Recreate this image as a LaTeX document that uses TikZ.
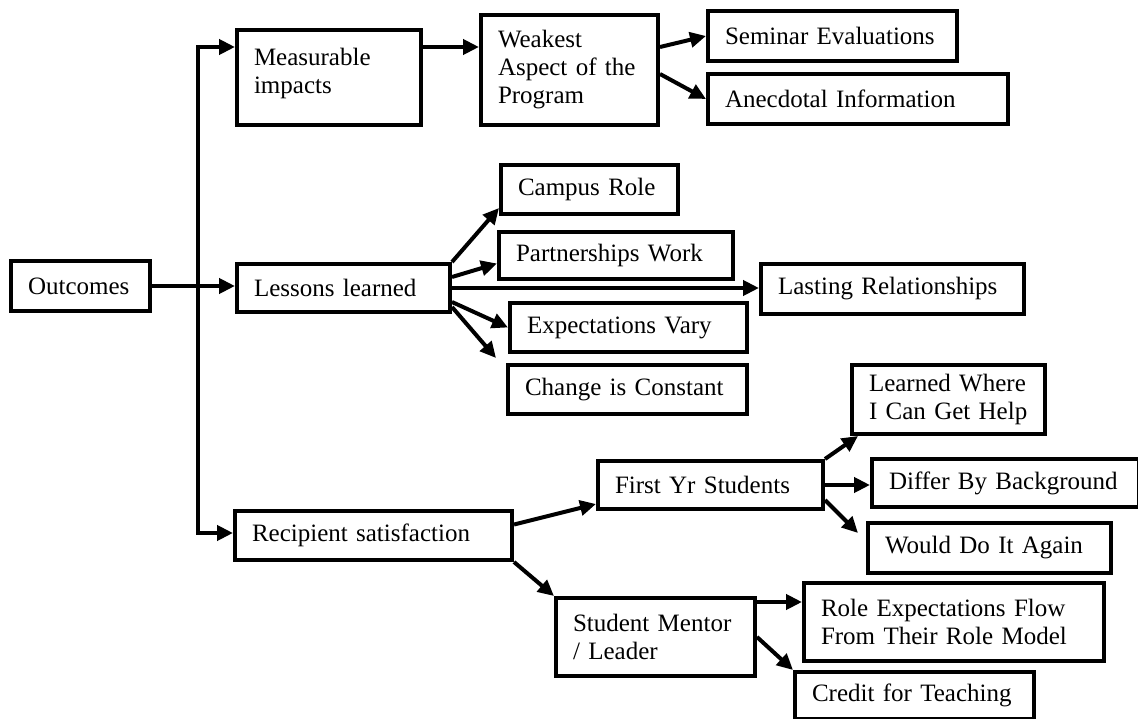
\documentclass[tikz,border=0pt]{standalone}
\usepackage{fontspec}
\setmainfont{Liberation Serif}
\usetikzlibrary{arrows.meta}
\tikzset{
	box/.style={draw, line width=4pt, anchor=north west, align=left,
		inner xsep=17pt, inner ysep=0pt, font=\fontsize{25}{28}\selectfont},
	arr/.style={line width=4pt, -{Triangle[length=16pt,width=15pt]}},
}

\begin{document}
\begin{tikzpicture}[x=1pt, y=-1pt]
			%%%%% START %%%%%
			\useasboundingbox (0, 0) rectangle (1138, 719);
			
			\node[box, minimum width=139pt, minimum height=50pt, text width=105pt] (outcomes) at (9, 259) {Outcomes};
			
			\node[box, minimum width=184pt, minimum height=95pt, text width=150pt] (measure) at (235, 28) {Measurable\\impacts\\[-14pt]~};
			\node[box, minimum width=213pt, minimum height=48pt, text width=179pt] (lessons) at (235, 262) {Lessons learned};
			\node[box, minimum width=277pt, minimum height=49pt, text width=243pt] (recip) at (233, 509) {Recipient satisfaction};
			
			\node[box, minimum width=177pt, minimum height=110pt, text width=143pt] (weak) at (479, 13) {Weakest\\Aspect of the\\Program};
			\node[box, minimum width=249pt, minimum height=50pt, text width=215pt] (seminar) at (706, 9) {Seminar Evaluations};
			\node[box, minimum width=300pt, minimum height=50pt, text width=266pt] (anec) at (706, 72) {Anecdotal Information};
			
			\node[box, minimum width=177pt, minimum height=49pt, text width=143pt] (campus) at (499, 163) {Campus Role};
			\node[box, minimum width=234pt, minimum height=47pt, text width=200pt] (partner) at (497, 230) {Partnerships Work};
			\node[box, minimum width=263pt, minimum height=50pt, text width=229pt] (lasting) at (759, 262) {Lasting Relationships};
			\node[box, minimum width=237pt, minimum height=49pt, text width=203pt] (expect) at (508, 301) {Expectations Vary};
			\node[box, minimum width=239pt, minimum height=49pt, text width=205pt] (change) at (506, 363) {Change is Constant};
			
			\node[box, minimum width=225pt, minimum height=48pt, text width=191pt] (first) at (596, 459) {First Yr Students};
			\node[box, minimum width=199pt, minimum height=78pt, text width=165pt] (mentor) at (554, 596) {Student Mentor\\/ Leader};
			
			\node[box, minimum width=193pt, minimum height=69pt, text width=159pt] (learned) at (850, 363) {Learned Where\\I Can Get Help};
			\node[box, minimum width=267pt, minimum height=48pt, text width=233pt] (differ) at (870, 457) {Differ By Background};
			\node[box, minimum width=243pt, minimum height=50pt, text width=209pt] (would) at (866, 521) {Would Do It Again};
			\node[box, minimum width=300pt, minimum height=78pt, text width=266pt] (role) at (802, 581) {Role Expectations Flow\\From Their Role Model};
			\node[box, minimum width=239pt, minimum height=47pt, text width=205pt] (credit) at (793, 670) {Credit for Teaching};
			
			\coordinate (top) at (198, 47);
			\coordinate (bot) at (198, 533);
			\coordinate (lfree) at (496, 358);
			\coordinate (ffree) at (858, 533);
			
			\draw[arr] (outcomes.east) -- (outcomes.east -| lessons.west);
			\draw[arr] (bot) -- (top) -- (top -| measure.west);
			\draw[arr] (top) -- (bot) -- (bot -| recip.west);
			
			\draw[arr] (top -| measure.east) -- (top -| weak.west);
			\draw[arr] (top -| weak.east) -- (seminar.west);
			\draw[arr] ([yshift=-4pt]weak.east) -- (anec.west);
			
			\draw[arr] (lessons.north east) -- ([yshift=8pt]campus.south west);
			\draw[arr] ([yshift=11pt]lessons.east) -- ([yshift=-8pt]partner.west);
			\draw[arr] (lessons.east) -- (lessons.east -| lasting.west);
			\draw[arr] ([yshift=-14pt]lessons.east) -- (expect.west);
			\draw[arr] ([yshift=-19pt]lessons.east) -- (lfree);
			
			\draw[arr] ([yshift=11pt]recip.east) -- ([yshift=7pt]first.south west);
			\draw[arr] (recip.south east) -- (mentor.north west);
			
			\draw[arr] (first.north east) -- ([xshift=8pt]learned.south west);
			\draw[arr] (first.east) -- (first.east -| differ.west);
			\draw[arr] ([yshift=-15pt]first.east) -- (ffree);
			
			\draw[arr] ([yshift=-6pt]mentor.north east) coordinate (m1) -- (m1 -| role.west);
			\draw[arr] (mentor.east) -- (credit.north west);
			
			%%%%% END %%%%%
\end{tikzpicture}
\end{document}
